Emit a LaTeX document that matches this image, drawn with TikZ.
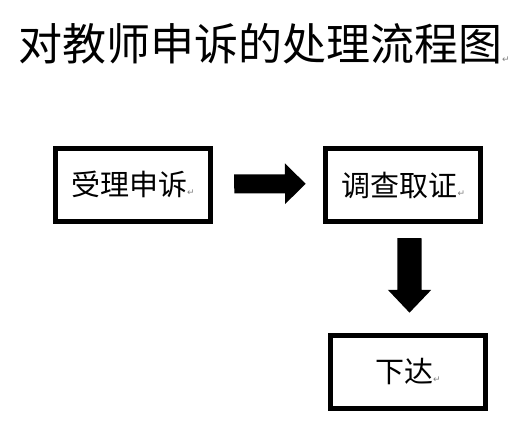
\documentclass[tikz,border=0pt]{standalone}
\usepackage{fontspec}
\setmainfont{Noto Sans CJK SC}
\newfontfamily\symfont{DejaVu Sans}
\usetikzlibrary{calc}
\newcommand\parmark{{\symfont\fontsize{9}{9}\selectfont\textcolor{gray}{↵}}}
\newcommand\boxtext[1]{\raisebox{-3pt}{#1\parmark}}
\tikzset{
  stagebox/.style={draw=black, line width=5pt, fill=white, minimum width=155pt, minimum height=72.5pt, inner sep=0pt, font=\fontsize{29}{31}\selectfont},
  blockarrow/.style={fill=black}
}
\begin{document}
\begin{tikzpicture}[x=1pt,y=-1pt]
\path[use as bounding box, fill=white] (0,0) rectangle (528,429);
\node[font=\fontsize{44}{46}\selectfont, inner sep=0pt] (title) at (264,44) {对教师申诉的处理流程图\raisebox{-2pt}{\parmark}};
\node[stagebox] (b1) at (132.8,184.8) {\boxtext{受理申诉}};
\node[stagebox] (b2) at (403.3,185) {\boxtext{调查取证}};
\node[stagebox] (b3) at (408,372) {\boxtext{下达}};
% right block arrow b1 -> b2
\coordinate (ra) at ($(b1.east)+(21.3,-1)$);
\coordinate (rb) at ($(b2.west)+(-17.6,-1.2)$);
\fill[blockarrow] (ra) ++(0,-9.5) -- ++(50.7,0) -- ++(0,-11) -- (rb) -- ++(-20.7,20.3) -- ++(0,-10.8) -- ++(-50.7,0) -- cycle;
% down block arrow b2 -> b3
\coordinate (da) at ($(b2.south)+(6.2,14.3)$);
\coordinate (db) at ($(b3.north)+(1.5,-20.6)$);
\fill[blockarrow] (da) ++(-12.2,0) -- ++(0,51.7) -- ++(-9.5,0) -- (db) -- ++(21.7,-22.7) -- ++(-9.5,0) -- ++(0,-51.7) -- cycle;
\end{tikzpicture}
\end{document}
